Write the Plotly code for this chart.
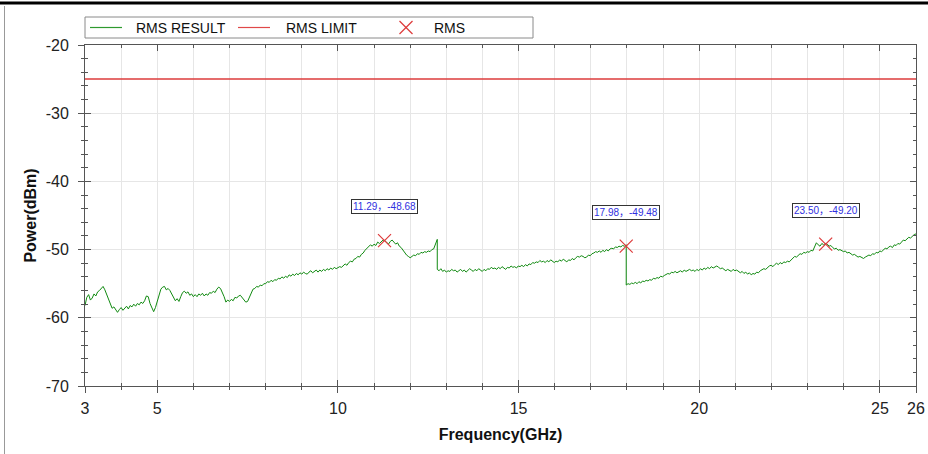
import numpy as np
import plotly.graph_objects as go

# ---------------- data ----------------
# segment A: 3.00 -> 12.75 GHz, 0.05 GHz steps
seg_a_range = (3.0, 12.75)
seg_a_vals = [
    -58.2, -57.0, -56.6, -57.4, -57.1, -56.5, -56.8, -56.2, -56.0, -55.7,
    -55.4, -55.9, -56.6, -57.5, -58.2, -58.6, -58.4, -58.9, -59.2, -58.8,
    -58.5, -58.9, -58.6, -58.3, -58.7, -58.2, -58.4, -58.0, -58.3, -57.9,
    -58.1, -57.7, -57.9, -57.5, -56.8, -56.9, -57.9, -58.6, -59.1, -58.5,
    -57.6, -56.5, -55.8, -55.5, -55.4, -55.9, -55.7, -56.0, -56.5, -57.0,
    -57.5, -57.2, -57.6, -56.9, -56.3, -56.1, -56.4, -56.2, -56.7, -56.5,
    -56.9, -56.6, -56.9, -56.5, -56.7, -56.4, -56.8, -56.5, -56.7, -56.3,
    -56.4, -56.1, -56.3, -55.8, -55.5, -55.7, -56.2, -56.9, -57.7, -57.4,
    -57.6, -57.3, -57.5, -57.0, -57.1, -56.8, -56.7, -57.0, -57.4, -57.7,
    -57.6, -56.9, -56.3, -55.8, -55.7, -55.4, -55.5, -55.2, -55.3, -55.0,
    -55.0, -54.7, -54.8, -54.5, -54.7, -54.4, -54.5, -54.2, -54.3, -54.0,
    -54.2, -53.9, -54.1, -53.7, -53.9, -53.6, -53.8, -53.5, -53.7, -53.4,
    -53.6, -53.3, -53.5, -53.6, -53.3, -53.1, -53.4, -53.2, -53.0, -53.3,
    -53.0, -53.2, -52.9, -53.1, -52.8, -53.0, -52.7, -52.9, -52.6, -52.8,
    -52.7, -52.5, -52.6, -52.3, -52.1, -52.3, -51.9, -51.7, -51.8, -51.4,
    -51.3, -51.0, -51.1, -50.7, -50.5, -50.1, -49.8, -49.6, -49.3, -49.5,
    -49.2, -49.4, -48.9, -49.1, -48.8, -48.6, -48.7, -48.9, -49.2, -48.8,
    -48.6, -48.9, -49.2, -49.0, -49.5, -49.7, -50.1, -50.5, -50.8, -51.0,
    -51.2, -51.0, -50.8, -50.9, -50.6, -50.7, -50.4, -50.5, -50.3, -50.4,
    -50.2, -50.3, -50.0, -49.9, -49.2, -48.5,
]
# segment B: 12.75 -> 17.98 GHz
seg_b_range = (12.75, 17.98)
seg_b_vals = [
    -52.9, -53.1, -52.8, -53.2, -53.0, -53.3, -53.1, -53.2, -52.9, -53.1,
    -53.0, -53.3, -53.1, -52.9, -53.2, -53.0, -53.3, -53.1, -52.8, -53.0,
    -53.2, -52.9, -53.1, -52.8, -53.0, -53.2, -52.9, -53.1, -52.8, -52.9,
    -52.6, -52.8, -52.7, -52.9, -52.6, -52.8, -52.5, -52.7, -52.9, -52.6,
    -52.7, -52.4, -52.6, -52.5, -52.7, -52.4, -52.5, -52.3, -52.5, -52.2,
    -52.4, -52.1, -52.2, -51.9, -52.0, -51.8, -51.9, -51.6, -51.8, -51.7,
    -51.9, -51.6, -51.8, -51.5, -51.7, -51.9, -51.7, -51.8, -51.5, -51.7,
    -51.4, -51.6, -51.8, -51.5, -51.6, -51.3, -51.5, -51.2, -51.0, -51.1,
    -50.9, -51.0, -51.2, -51.1, -50.8, -50.9, -50.6, -50.5, -50.3, -50.4,
    -50.2, -50.4, -50.1, -50.3, -50.0, -50.2, -49.9, -49.8, -49.9, -49.6,
    -49.7, -49.5, -49.6, -49.4, -49.5, -49.3,
]
# segment C: 17.98 -> 26.00 GHz
seg_c_range = (17.98, 26.0)
seg_c_vals = [
    -55.2, -55.0, -55.1, -54.9, -55.0, -54.8, -55.0, -54.7, -54.9, -54.6,
    -54.7, -54.5, -54.6, -54.4, -54.5, -54.2, -54.3, -54.1, -54.2, -53.9,
    -54.0, -53.8, -53.7, -53.5, -53.6, -53.3, -53.4, -53.2, -53.4, -53.3,
    -53.1, -53.3, -53.0, -53.2, -53.1, -52.9, -53.1, -53.0, -53.2, -52.9,
    -53.1, -52.8, -53.0, -52.7, -52.9, -52.6, -52.8, -52.5, -52.7, -52.6,
    -52.4, -52.6, -52.8, -52.7, -52.9, -53.1, -52.9, -53.0, -53.2, -52.9,
    -53.1, -53.0, -53.2, -53.4, -53.2, -53.5, -53.3, -53.6, -53.4, -53.7,
    -53.5, -53.6, -53.3, -53.4, -53.1, -53.0, -52.8, -52.9, -52.6, -52.4,
    -52.3, -52.5, -52.2, -52.0, -52.2, -51.9, -52.1, -51.8, -51.9, -51.7,
    -51.8, -51.5, -51.2, -51.0, -51.1, -50.8, -50.6, -50.7, -50.4, -50.5,
    -50.3, -50.4, -50.1, -50.2, -49.6, -49.0, -49.3, -49.5, -49.1, -49.3,
    -49.1, -49.2, -49.5, -49.4, -49.7, -49.9, -49.8, -50.1, -50.0, -50.2,
    -50.3, -50.2, -50.5, -50.4, -50.6, -50.8, -50.7, -50.9, -51.1, -51.0,
    -51.2, -51.3, -51.1, -51.0, -50.8, -50.9, -50.6, -50.7, -50.4, -50.5,
    -50.2, -50.3, -50.0, -49.8, -49.9, -49.6, -49.5, -49.7, -49.3, -49.4,
    -49.1, -49.2, -48.9, -48.6, -48.7, -48.4, -48.2, -48.3, -48.0, -47.8,
    -47.7,
]

limit_val = -25.0
rms_freq = [11.29, 17.98, 23.50]
rms_val = [-48.68, -49.48, -49.20]

legend_names = ["RMS RESULT", "RMS LIMIT", "RMS"]
x_tickvals = [3, 5, 10, 15, 20, 25, 26]
y_tickvals = [-20, -30, -40, -50, -60, -70]
y_ticktext = ["-20", "-30", "-40", "-50", "-60", "-70"]

# ---------------- build trace ----------------
freq, power = [], []
for (a, b), vals in [(seg_a_range, seg_a_vals), (seg_b_range, seg_b_vals), (seg_c_range, seg_c_vals)]:
    freq.extend(np.linspace(a, b, len(vals)).tolist())
    power.extend(vals)

FONT = "Liberation Sans, Arial, sans-serif"
GREEN = "#118a11"
RED = "#dd3b3b"
AX = "#555555"

fig = go.Figure()
fig.add_trace(go.Scatter(x=freq, y=power, mode="lines", name=legend_names[0],
                         line=dict(color=GREEN, width=1), showlegend=False))
fig.add_trace(go.Scatter(x=[3, 26], y=[limit_val, limit_val], mode="lines", name=legend_names[1],
                         line=dict(color=RED, width=1.5), showlegend=False))
fig.add_trace(go.Scatter(x=rms_freq, y=rms_val, mode="markers", name=legend_names[2],
                         marker=dict(symbol="x-thin-open", size=13, color=RED,
                                     line=dict(color=RED, width=1.2)), showlegend=False))
# invisible trace to drive the inside-tick overlay axes
fig.add_trace(go.Scatter(x=[3, 26], y=[-70, -20], mode="markers", xaxis="x2", yaxis="y2",
                         marker=dict(opacity=0), showlegend=False, hoverinfo="skip"))

for fx, fy in zip(rms_freq, rms_val):
    fig.add_annotation(x=fx, y=fy, text=f"{fx:.2f}，{fy:.2f}", showarrow=False, yshift=34,
                       font=dict(family="Liberation Sans, Noto Sans CJK SC", size=10, color="#2f2fe0"),
                       bgcolor="white", bordercolor="#333333", borderwidth=1, borderpad=1)

axis_common = dict(showline=True, linecolor=AX, linewidth=1, zeroline=False, automargin=False)

fig.update_layout(
    width=928, height=454,
    margin=dict(l=85, r=12, t=45, b=68, autoexpand=False),
    paper_bgcolor="white", plot_bgcolor="white",
    font=dict(family=FONT, color="#222222"),
    showlegend=False,
    xaxis=dict(range=[3, 26], tickmode="array", tickvals=x_tickvals,
               ticks="outside", ticklen=6, tickcolor=AX, mirror=False,
               showgrid=True, gridcolor="#e6e6e6", ticklabelstandoff=2,
               minor=dict(dtick=1, tick0=3, ticks="outside", ticklen=3, tickcolor=AX,
                          showgrid=True, gridcolor="#e6e6e6"),
               tickfont=dict(size=16, family=FONT),
               title=dict(text="<b>Frequency(GHz)</b>", font=dict(size=16, family=FONT, color="#111111"),
                          standoff=12),
               **axis_common),
    yaxis=dict(range=[-70, -20], tickmode="array", tickvals=y_tickvals, ticktext=y_ticktext,
               ticks="outside", ticklen=6, tickcolor=AX, mirror=False,
               showgrid=True, gridcolor="#e6e6e6", ticklabelstandoff=6,
               minor=dict(dtick=2, tick0=-70, ticks="outside", ticklen=3, tickcolor=AX, showgrid=False),
               tickfont=dict(size=16, family=FONT),
               title=dict(text="<b>Power(dBm)</b>", font=dict(size=16, family=FONT, color="#111111"),
                          standoff=5),
               **axis_common),
    xaxis2=dict(overlaying="x", range=[3, 26], tickmode="array", tickvals=x_tickvals,
                ticks="inside", ticklen=6, tickcolor=AX, mirror="ticks", showticklabels=False,
                showgrid=False, minor=dict(dtick=1, tick0=3, ticks="inside", ticklen=3, tickcolor=AX),
                **axis_common),
    yaxis2=dict(overlaying="y", range=[-70, -20], tickmode="array", tickvals=y_tickvals,
                ticks="inside", ticklen=6, tickcolor=AX, mirror="ticks", showticklabels=False,
                showgrid=False, minor=dict(dtick=2, tick0=-70, ticks="inside", ticklen=3, tickcolor=AX),
                **axis_common),
)

# ---------------- legend box (pixel layout -> paper coords) ----------------
PL, PR, PT, PB = 85, 916, 45, 386
def px(x):
    return (x - PL) / (PR - PL)
def py(y):
    return (PB - y) / (PB - PT)

leg_y = 27.5
fig.add_shape(type="rect", xref="paper", yref="paper", x0=px(85), x1=px(533), y0=py(38), y1=py(17),
              line=dict(color="#8a8a8a", width=1), fillcolor="white", layer="below")
fig.add_shape(type="line", xref="paper", yref="paper", x0=px(90), x1=px(122), y0=py(leg_y), y1=py(leg_y),
              line=dict(color="#2e9a2e", width=1.2), layer="above")
fig.add_shape(type="line", xref="paper", yref="paper", x0=px(238), x1=px(270), y0=py(leg_y), y1=py(leg_y),
              line=dict(color="#e04848", width=1.2), layer="above")
for dx0, dy0, dx1, dy1 in [(-6.5, -6.5, 6.5, 6.5), (-6.5, 6.5, 6.5, -6.5)]:
    fig.add_shape(type="line", xref="paper", yref="paper",
                  x0=px(406 + dx0), x1=px(406 + dx1), y0=py(leg_y + dy0), y1=py(leg_y + dy1),
                  line=dict(color=RED, width=1.2), layer="above")
for name, lx in zip(legend_names, [134, 284, 432]):
    fig.add_annotation(x=px(lx), y=py(leg_y), xref="paper", yref="paper", text=name,
                       showarrow=False, xanchor="left", yanchor="middle",
                       font=dict(size=14, family=FONT, color="#111111"))

# outer frame: thick black top rule and grey left rule
fig.add_shape(type="line", xref="paper", yref="paper", x0=px(-10), x1=px(940), y0=py(3), y1=py(3),
              line=dict(color="black", width=3))
fig.add_shape(type="line", xref="paper", yref="paper", x0=px(4.5), x1=px(4.5), y0=py(470), y1=py(6),
              line=dict(color="#999999", width=1))

fig.write_html("out.html", config={"displayModeBar": False},
               post_script="document.body.style.margin='0';")
